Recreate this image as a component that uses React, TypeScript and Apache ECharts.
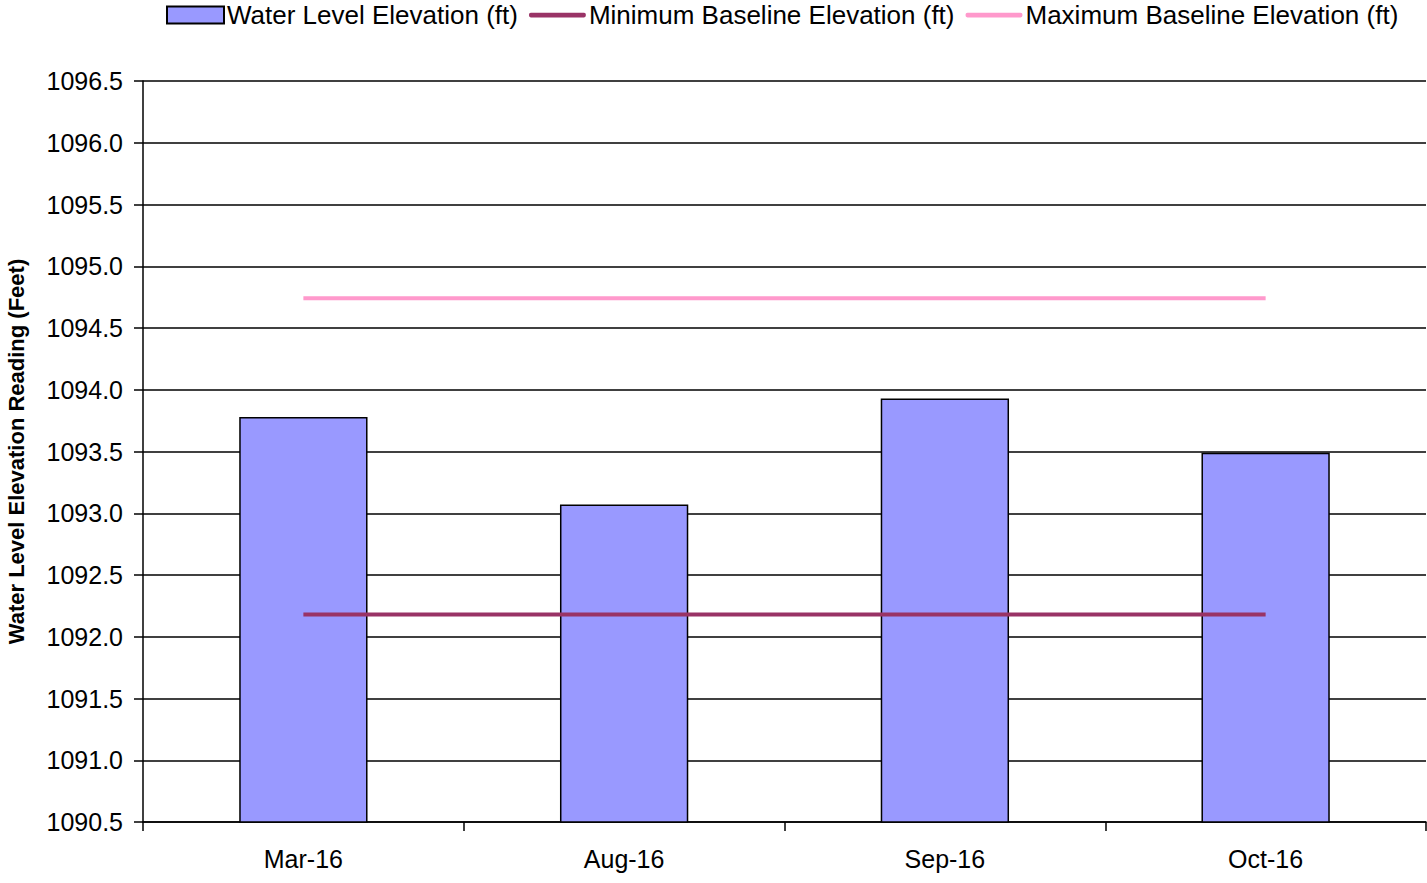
import React, { useEffect, useRef } from "react";
import * as echarts from "echarts";

const categories = ["Mar-16", "Aug-16", "Sep-16", "Oct-16"];
const waterLevel = [1093.78, 1093.07, 1093.93, 1093.49];
const minBaseline = [1092.18, 1092.18, 1092.18, 1092.18];
const maxBaseline = [1094.74, 1094.74, 1094.74, 1094.74];

const FONT = "'Liberation Sans', Arial, sans-serif";
const LINE_ICON = "path://M2,0 L58,0 Q60,0 60,2.5 Q60,5 58,5 L2,5 Q0,5 0,2.5 Q0,0 2,0 Z";

export default function App() {
  const ref = useRef<HTMLDivElement>(null);
  useEffect(() => {
    if (!ref.current) return;
    const chart = echarts.init(ref.current, null, { renderer: "svg" });
    chart.setOption({
      animation: false,
      textStyle: { fontFamily: FONT },
      legend: {
        top: -3,
        left: 161,
        itemWidth: 57,
        itemHeight: 17,
        itemGap: 11,
        symbolKeepAspect: true,
        textStyle: { fontSize: 26, color: "#000", fontFamily: FONT, padding: [0, 0, 0, -2] },
        data: [
          { name: "Water Level Elevation (ft)", icon: "rect" },
          { name: "Minimum Baseline Elevation (ft)", icon: LINE_ICON },
          { name: "Maximum Baseline Elevation (ft)", icon: LINE_ICON },
        ],
      },
      grid: { left: 143, right: 1, top: 81, bottom: 61, containLabel: false, outerBoundsMode: "none" },
      xAxis: {
        type: "category",
        data: categories,
        boundaryGap: true,
        axisLine: { lineStyle: { color: "#000", width: 1.5 } },
        axisTick: { show: true, length: 9, lineStyle: { color: "#000", width: 1.5 } },
        axisLabel: { fontSize: 25, color: "#000", margin: 24, fontFamily: FONT },
      },
      yAxis: {
        type: "value",
        min: 1090.5,
        max: 1096.5,
        interval: 0.5,
        name: "Water Level Elevation Reading (Feet)",
        nameLocation: "middle",
        nameGap: 116,
        nameRotate: 90,
        nameTextStyle: { fontSize: 22, fontWeight: "bold", color: "#000", fontFamily: FONT },
        axisLine: { show: true, lineStyle: { color: "#000", width: 1.5 } },
        axisTick: { show: true, length: 9, lineStyle: { color: "#000", width: 1.5 } },
        axisLabel: {
          fontSize: 25,
          color: "#000",
          margin: 20,
          fontFamily: FONT,
          formatter: (v: number) => v.toFixed(1),
        },
        splitLine: { show: true, lineStyle: { color: "#000", width: 1.5 } },
      },
      series: [
        {
          name: "Water Level Elevation (ft)",
          type: "bar",
          data: waterLevel,
          barWidth: "40%",
          itemStyle: { color: "#9999FF", borderColor: "#000", borderWidth: 1.5 },
        },
        {
          name: "Minimum Baseline Elevation (ft)",
          type: "line",
          data: minBaseline,
          symbol: "none",
          lineStyle: { color: "#993366", width: 4 },
          itemStyle: { color: "#993366" },
        },
        {
          name: "Maximum Baseline Elevation (ft)",
          type: "line",
          data: maxBaseline,
          symbol: "none",
          lineStyle: { color: "#FF99CC", width: 4 },
          itemStyle: { color: "#FF99CC" },
        },
      ],
    });
    return () => chart.dispose();
  }, []);
  return (
    <div
      ref={ref}
      style={{ position: "fixed", left: 0, top: 0, width: 1427, height: 883, background: "#fff" }}
    />
  );
}
